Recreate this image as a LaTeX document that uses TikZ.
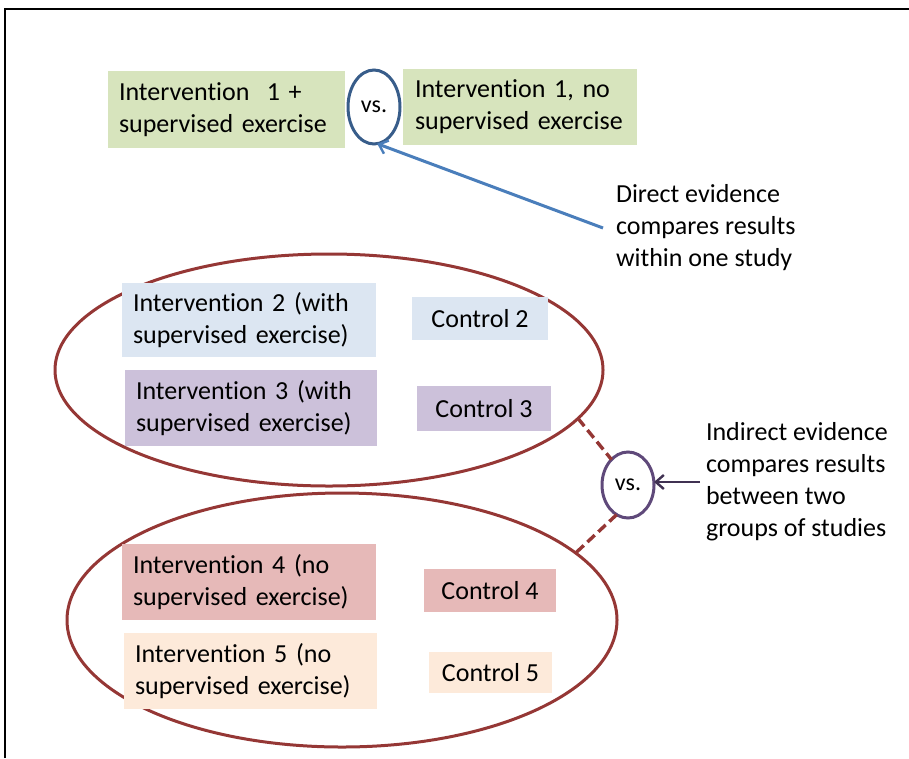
\documentclass[tikz,border=0pt]{standalone}
\usepackage{fontspec}
\setmainfont{Carlito}[Ligatures={NoCommon}]
\usetikzlibrary{arrows.meta,shapes.geometric}

\definecolor{greenfill}{HTML}{D7E4BD}
\definecolor{bluefill}{HTML}{DCE6F2}
\definecolor{purplefill}{HTML}{CCC1DA}
\definecolor{redfill}{HTML}{E6B9B8}
\definecolor{peachfill}{HTML}{FDEADA}
\definecolor{groupred}{HTML}{953735}
\definecolor{vsblue}{HTML}{385D8A}
\definecolor{arrowblue}{HTML}{4A7EBB}
\definecolor{vspurple}{HTML}{5F497A}
\definecolor{arrowpurple}{HTML}{403152}

\begin{document}
\begin{tikzpicture}[x=1pt,y=-1pt,
  font=\fontsize{26}{32}\selectfont,
  armbox/.style={anchor=north west, align=left, inner xsep=11pt, inner ysep=0pt,
                 outer sep=0pt},
  ctrlbox/.style={anchor=north west, align=center, inner sep=0pt, outer sep=0pt},
  group/.style={draw=groupred, line width=3pt, ellipse, inner sep=0pt, outer sep=0pt},
  vsring/.style={ellipse, line width=3pt, inner sep=0pt, outer sep=0pt,
                 font=\fontsize{24}{28}\selectfont},
  note/.style={anchor=west, align=left, inner sep=0pt, outer sep=0pt},
  link/.style={draw=groupred, line width=3.4pt, dash pattern=on 10pt off 5pt},
  pointer/.style={line width=3pt, -{Straight Barb[length=8pt,width=14pt,line width=2.4pt]}}
]
\useasboundingbox (0,0) rectangle (909,758);

% outer frame
\draw[line width=2.4pt] (5,758) -- (5,9) -- (909,9);

% direct comparison
\node[armbox, fill=greenfill, text width=215pt, minimum height=77pt] (i1a) at (108,71)
  {Intervention\ \ 1 +\\supervised exercise};
\node[armbox, fill=greenfill, inner xsep=12pt, text width=210pt, minimum height=76pt] (i1b) at (403,69)
  {Intervention 1, no\\supervised exercise};
\node[vsring, draw=vsblue, minimum width=52pt, minimum height=74pt] (vs1) at (374,107) {vs.};
\node[note] (direct) at (616,228) {Direct evidence\\compares results\\within one study};
\draw[pointer, draw=arrowblue] ([xshift=-13pt]direct.west) -- (vs1.-85);

% first group of studies
\node[group, minimum width=548pt, minimum height=232pt] (g1) at (329,370) {};
\node[armbox, fill=bluefill, text width=232pt, minimum height=74pt] (i2) at (122,283)
  {Intervention 2 (with\\supervised exercise)};
\node[ctrlbox, fill=bluefill, minimum width=136pt, minimum height=43pt] (c2) at (412,297) {Control 2};
\node[armbox, fill=purplefill, text width=230pt, minimum height=76pt] (i3) at (125,370)
  {Intervention 3 (with\\supervised exercise)};
\node[ctrlbox, fill=purplefill, minimum width=134pt, minimum height=45pt] (c3) at (417,386) {Control 3};

% second group of studies
\node[group, minimum width=550pt, minimum height=254pt] (g2) at (342,620) {};
\node[armbox, fill=redfill, text width=232pt, minimum height=76pt] (i4) at (122,544)
  {Intervention 4 (no\\supervised exercise)};
\node[ctrlbox, fill=redfill, minimum width=132pt, minimum height=43pt] (c4) at (424,569) {Control 4};
\node[armbox, fill=peachfill, text width=231pt, minimum height=76pt] (i5) at (124,633)
  {Intervention 5 (no\\supervised exercise)};
\node[ctrlbox, fill=peachfill, minimum width=123pt, minimum height=41pt] (c5) at (429,652) {Control 5};

% indirect comparison
\node[vsring, draw=vspurple, minimum width=52pt, minimum height=66pt] (vs2) at (628,485) {vs.};
\draw[link] (g1.-11) -- (vs2.123);
\draw[link] (vs2.-111) -- (g2.16);
\node[note] (indirect) at (706,482) {Indirect evidence\\compares results\\between two\\groups of studies};
\draw[pointer, draw=arrowpurple, line width=2.4pt] ([xshift=-6pt]indirect.west) -- (vs2.east |- indirect.west);
\end{tikzpicture}
\end{document}
